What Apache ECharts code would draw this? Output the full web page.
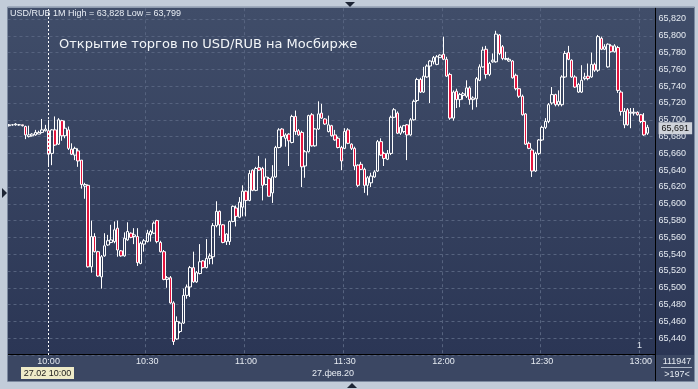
<!DOCTYPE html>
<html><head><meta charset="utf-8">
<script src="https://cdn.jsdelivr.net/npm/echarts@6/dist/echarts.min.js"></script>
<style>html,body{margin:0;padding:0;background:#c2ccd9;}#c{width:698px;height:389px;}</style>
</head><body><div id="c"></div>
<script>
// 1-minute candles, 09:48 .. 13:02
const opens = [
65.693,65.694,65.694,65.694,65.694,65.692,65.680,65.681,65.682,65.683,65.685,65.687,
65.687,65.660,65.688,65.671,65.699,65.681,65.688,65.665,65.658,65.663,
65.652,65.621,65.622,65.525,65.561,65.543,65.513,65.538,65.551,65.554,
65.555,65.571,65.544,65.538,65.557,65.565,65.561,65.561,65.529,65.552,
65.555,65.563,65.565,65.580,65.554,65.543,65.510,65.512,65.482,65.439,
65.448,65.458,65.491,65.501,65.524,65.507,65.517,65.532,65.524,65.535,
65.537,65.574,65.591,65.575,65.555,65.555,65.579,65.595,65.584,65.596,
65.615,65.604,65.640,65.616,65.643,65.642,65.623,65.630,65.613,65.632,
65.667,65.689,65.678,65.683,65.673,65.704,65.687,65.685,65.645,65.662,
65.706,65.669,65.689,65.708,65.701,65.686,65.693,65.682,65.678,65.667,
65.666,65.688,65.671,65.666,65.646,65.647,65.641,65.622,65.625,65.632,
65.639,65.674,65.660,65.653,65.660,65.703,65.708,65.684,65.686,65.694,
65.682,65.700,65.723,65.748,65.733,65.751,65.764,65.769,65.766,65.774,
65.778,65.772,65.754,65.702,65.734,65.724,65.729,65.728,65.738,65.724,
65.725,65.747,65.763,65.784,65.754,65.769,65.769,65.801,65.787,65.772,
65.770,65.770,65.753,65.737,65.728,65.707,65.672,65.664,65.639,65.660,
65.676,65.691,65.698,65.720,65.730,65.718,65.718,65.751,65.780,65.771,
65.751,65.733,65.733,65.749,65.752,65.751,65.766,65.759,65.797,65.784,
65.763,65.788,65.781,65.786,65.733,65.694,65.712,65.708,65.708,65.709,
65.706,65.698,65.684];
const closes = [
65.694,65.694,65.695,65.694,65.693,65.682,65.682,65.683,65.685,65.685,65.688,65.689,
65.659,65.688,65.670,65.700,65.681,65.690,65.666,65.659,65.666,65.651,
65.623,65.623,65.525,65.561,65.543,65.514,65.537,65.550,65.556,65.557,
65.569,65.545,65.538,65.559,65.567,65.560,65.563,65.530,65.553,65.556,
65.565,65.567,65.577,65.555,65.543,65.510,65.512,65.482,65.436,65.460,
65.458,65.491,65.501,65.524,65.507,65.518,65.531,65.524,65.535,65.538,
65.574,65.591,65.575,65.554,65.564,65.579,65.597,65.585,65.602,65.615,
65.604,65.636,65.616,65.642,65.640,65.622,65.632,65.609,65.632,65.667,
65.688,65.680,65.682,65.675,65.704,65.686,65.682,65.644,65.662,65.705,
65.669,65.689,65.707,65.702,65.695,65.694,65.681,65.676,65.667,65.651,
65.686,65.672,65.666,65.645,65.622,65.641,65.622,65.631,65.633,65.638,
65.674,65.658,65.654,65.660,65.703,65.712,65.684,65.691,65.693,65.682,
65.700,65.722,65.748,65.733,65.752,65.764,65.770,65.774,65.775,65.777,
65.772,65.752,65.702,65.733,65.724,65.730,65.731,65.738,65.724,65.726,
65.749,65.763,65.783,65.754,65.767,65.771,65.802,65.779,65.773,65.773,
65.772,65.750,65.737,65.728,65.706,65.671,65.666,65.639,65.660,65.676,
65.691,65.698,65.718,65.730,65.718,65.722,65.751,65.779,65.772,65.751,
65.739,65.742,65.747,65.751,65.749,65.766,65.759,65.799,65.784,65.787,
65.790,65.781,65.788,65.735,65.710,65.710,65.694,65.709,65.709,65.706,
65.698,65.682,65.691];
const lows = [
65.692,65.693,65.693,65.693,65.692,65.677,65.679,65.680,65.681,65.683,65.684,65.686,
65.645,65.646,65.669,65.670,65.675,65.678,65.664,65.658,65.652,65.644,
65.618,65.606,65.524,65.518,65.542,65.513,65.499,65.537,65.550,65.553,
65.553,65.537,65.537,65.537,65.556,65.559,65.552,65.526,65.528,65.543,
65.554,65.555,65.564,65.553,65.542,65.509,65.500,65.481,65.432,65.438,
65.446,65.457,65.487,65.489,65.506,65.506,65.516,65.523,65.523,65.528,
65.528,65.572,65.562,65.553,65.551,65.551,65.578,65.573,65.583,65.585,
65.585,65.603,65.615,65.615,65.639,65.604,65.622,65.609,65.601,65.631,
65.666,65.668,65.668,65.645,65.672,65.682,65.681,65.620,65.631,65.661,
65.668,65.668,65.688,65.701,65.694,65.685,65.680,65.675,65.666,65.640,
65.665,65.671,65.664,65.640,65.620,65.640,65.613,65.610,65.620,65.631,
65.638,65.657,65.645,65.652,65.658,65.702,65.683,65.682,65.684,65.652,
65.681,65.699,65.721,65.732,65.732,65.750,65.720,65.766,65.765,65.774,
65.771,65.751,65.700,65.699,65.714,65.715,65.724,65.726,65.718,65.712,
65.715,65.746,65.762,65.749,65.752,65.768,65.768,65.777,65.771,65.771,
65.769,65.749,65.735,65.726,65.705,65.670,65.665,65.632,65.638,65.658,
65.675,65.689,65.696,65.718,65.716,65.716,65.716,65.750,65.771,65.750,
65.738,65.732,65.732,65.747,65.747,65.750,65.757,65.757,65.783,65.783,
65.762,65.780,65.780,65.732,65.705,65.690,65.693,65.690,65.705,65.705,
65.696,65.681,65.682];
const highs = [
65.695,65.695,65.696,65.695,65.694,65.693,65.693,65.684,65.688,65.687,65.701,65.694,
65.700,65.689,65.704,65.702,65.700,65.699,65.692,65.672,65.668,65.666,
65.652,65.625,65.623,65.580,65.565,65.544,65.539,65.565,65.563,65.575,
65.579,65.580,65.545,65.566,65.578,65.566,65.571,65.571,65.555,65.558,
65.569,65.569,65.579,65.581,65.556,65.545,65.514,65.514,65.484,65.466,
65.460,65.499,65.504,65.526,65.543,65.520,65.552,65.533,65.558,65.541,
65.577,65.603,65.592,65.576,65.565,65.580,65.598,65.598,65.608,65.622,
65.616,65.640,65.641,65.644,65.657,65.644,65.654,65.632,65.646,65.669,
65.690,65.690,65.684,65.684,65.706,65.711,65.689,65.687,65.664,65.706,
65.708,65.690,65.722,65.719,65.702,65.705,65.694,65.688,65.680,65.669,
65.690,65.690,65.672,65.668,65.647,65.650,65.643,65.633,65.637,65.640,
65.676,65.678,65.662,65.664,65.705,65.714,65.710,65.693,65.694,65.695,
65.702,65.724,65.750,65.750,65.763,65.766,65.771,65.776,65.777,65.778,
65.799,65.775,65.756,65.735,65.737,65.732,65.733,65.747,65.740,65.728,
65.751,65.766,65.787,65.788,65.769,65.779,65.806,65.802,65.789,65.781,
65.774,65.771,65.755,65.738,65.730,65.708,65.674,65.666,65.662,65.677,
65.693,65.702,65.720,65.739,65.731,65.735,65.753,65.782,65.788,65.772,
65.753,65.744,65.765,65.756,65.767,65.780,65.768,65.801,65.799,65.790,
65.791,65.790,65.790,65.788,65.735,65.714,65.714,65.714,65.714,65.710,
65.707,65.708,65.694];

// time categories (one per minute, two empty slots at the end)
const startMinute = 9 * 60 + 48;
const slotCount = 197;
const times = [];
for (let i = 0; i < slotCount; i++) {
  const m = startMinute + i;
  times.push(String(Math.floor(m / 60)).padStart(2, '0') + ':' + String(m % 60).padStart(2, '0'));
}
const timeTicks = ['10:00', '10:30', '11:00', '11:30', '12:00', '12:30', '13:00'];
const gridTimes = ['10:30', '11:00', '11:30', '12:00', '12:30', '13:00'];
const sessionStart = '10:00';
const yMin = 65.42, yMax = 65.84, yStep = 0.02;
const lastClose = closes[closes.length - 1];

const headerText = 'USD/RUB 1M High = 63,828 Low = 63,799';
const titleText = 'Открытие торгов по USD/RUB на Мосбирже';
const dateText = '27.фев.20';
const cursorText = '27.02 10:00';
const volText = '111947';
const barsText = '>197<';

const candles = opens.map((o, i) => [o, closes[i], lows[i], highs[i]]);
const fmt = v => v.toFixed(3).replace('.', ',');
const small = '9px "Liberation Sans", Arial, sans-serif';
const frame = '#c2ccd9';
const dark = '#1d2535';
const gridColor = '#56637f';

const chart = echarts.init(document.getElementById('c'));
chart.setOption({
  animation: false,
  backgroundColor: frame,
  grid: { left: 7.5, right: 42.4, top: 2.2, height: 352.8 },
  xAxis: {
    type: 'category', data: times, boundaryGap: true,
    axisLine: { show: false }, axisTick: { show: false },
    splitLine: {
      show: true, interval: (i, v) => gridTimes.indexOf(v) >= 0,
      lineStyle: { color: gridColor, type: [3, 3], width: 1 }
    },
    axisLabel: {
      interval: (i, v) => timeTicks.indexOf(v) >= 0,
      color: '#e6ebf2', fontSize: 9, fontFamily: 'Liberation Sans', margin: 2
    }
  },
  yAxis: {
    type: 'value', position: 'right', min: yMin, max: yMax, interval: yStep, scale: true,
    axisLine: { show: false }, axisTick: { show: false },
    axisLabel: {
      color: '#e6ebf2', fontSize: 9, fontFamily: 'Liberation Sans', margin: 3,
      formatter: v => (v < yMin + 0.01 || v > yMax - 0.01) ? '' : fmt(v)
    },
    splitLine: { show: true, lineStyle: { color: gridColor, type: [3, 3], width: 1 } }
  },
  series: [
    {
      type: 'candlestick', data: candles, barWidth: 3, z: 2,
      itemStyle: {
        color: 'rgba(0,0,0,0)', color0: '#e3143e',
        borderColor: '#ffffff', borderColor0: '#ffffff', borderColorDoji: '#ffffff',
        borderWidth: 1
      },
      markLine: {
        symbol: 'none', silent: true, animation: false,
        data: [
          { xAxis: sessionStart, lineStyle: { color: '#ffffff', type: [2, 2], width: 1 }, label: { show: false } },
          {
            yAxis: lastClose, lineStyle: { color: 'rgba(0,0,0,0)', width: 0 },
            label: {
              show: true, position: 'end', distance: 3, formatter: fmt(lastClose),
              backgroundColor: '#cfd3da', color: '#111111', fontSize: 9,
              fontFamily: 'Liberation Sans', padding: [2, 3, 1, 3]
            }
          }
        ]
      }
    }
  ],
  graphic: [
    { type: 'rect', z: -10, silent: true, shape: { x: 8, y: 7.5, width: 686, height: 347.5 },
      style: { fill: new echarts.graphic.LinearGradient(0, 0, 0, 1, [{ offset: 0, color: '#404d69' }, { offset: 1, color: '#2b3655' }]) } },
    { type: 'rect', z: -10, silent: true, shape: { x: 8, y: 355, width: 686, height: 26 }, style: { fill: '#3b4763' } },
    { type: 'line', z: 5, silent: true, shape: { x1: 655.5, y1: 7.5, x2: 655.5, y2: 381 }, style: { stroke: '#000', lineWidth: 1 } },
    { type: 'line', z: 5, silent: true, shape: { x1: 8, y1: 354.5, x2: 656, y2: 354.5 }, style: { stroke: '#000', lineWidth: 1 } },
    // frame
    { type: 'rect', z: 20, silent: true, shape: { x: 0, y: 0, width: 698, height: 7.5 }, style: { fill: frame } },
    { type: 'rect', z: 20, silent: true, shape: { x: 0, y: 381, width: 698, height: 8 }, style: { fill: frame } },
    { type: 'rect', z: 20, silent: true, shape: { x: 0, y: 0, width: 8, height: 389 }, style: { fill: frame } },
    { type: 'rect', z: 20, silent: true, shape: { x: 694, y: 0, width: 4, height: 389 }, style: { fill: frame } },
    { type: 'rect', z: 21, silent: true, shape: { x: 7.5, y: 7, width: 687, height: 374.5 }, style: { fill: null, stroke: '#7d8aa0', lineWidth: 1 } },
    { type: 'polygon', z: 21, silent: true, shape: { points: [[345, 2], [355, 2], [350, 7]] }, style: { fill: dark } },
    { type: 'polygon', z: 21, silent: true, shape: { points: [[347, 388], [357, 388], [352, 383]] }, style: { fill: dark } },
    { type: 'polygon', z: 21, silent: true, shape: { points: [[2, 188], [2, 198], [7, 193]] }, style: { fill: dark } },
    // texts
    { type: 'text', z: 15, silent: true, style: { text: headerText, x: 10, y: 14, textVerticalAlign: 'middle', fill: '#e8edf4', font: small } },
    { type: 'text', z: 15, silent: true, style: { text: titleText, x: 59, y: 45, textVerticalAlign: 'middle', fill: '#f2f5f8', font: '13px "DejaVu Sans", sans-serif' } },
    { type: 'text', z: 15, silent: true, style: { text: '1', x: 637, y: 346, textVerticalAlign: 'middle', fill: '#dfe5ee', font: small } },
    { type: 'text', z: 15, silent: true, style: { text: dateText, x: 333, y: 374, textAlign: 'center', textVerticalAlign: 'middle', fill: '#e6ebf2', font: small } },
    { type: 'rect', z: 15, silent: true, shape: { x: 21, y: 367, width: 53, height: 12 }, style: { fill: '#eeebc8' } },
    { type: 'text', z: 16, silent: true, style: { text: cursorText, x: 47.5, y: 373.5, textAlign: 'center', textVerticalAlign: 'middle', fill: '#1a1a1a', font: small } },
    { type: 'text', z: 15, silent: true, style: { text: volText, x: 677, y: 362, textAlign: 'center', textVerticalAlign: 'middle', fill: '#e6ebf2', font: small } },
    { type: 'line', z: 15, silent: true, shape: { x1: 661, y1: 367.5, x2: 692, y2: 367.5 }, style: { stroke: '#aeb8c8', lineWidth: 1 } },
    { type: 'text', z: 15, silent: true, style: { text: barsText, x: 677, y: 374.5, textAlign: 'center', textVerticalAlign: 'middle', fill: '#e6ebf2', font: small } }
  ]
});
</script></body></html>
